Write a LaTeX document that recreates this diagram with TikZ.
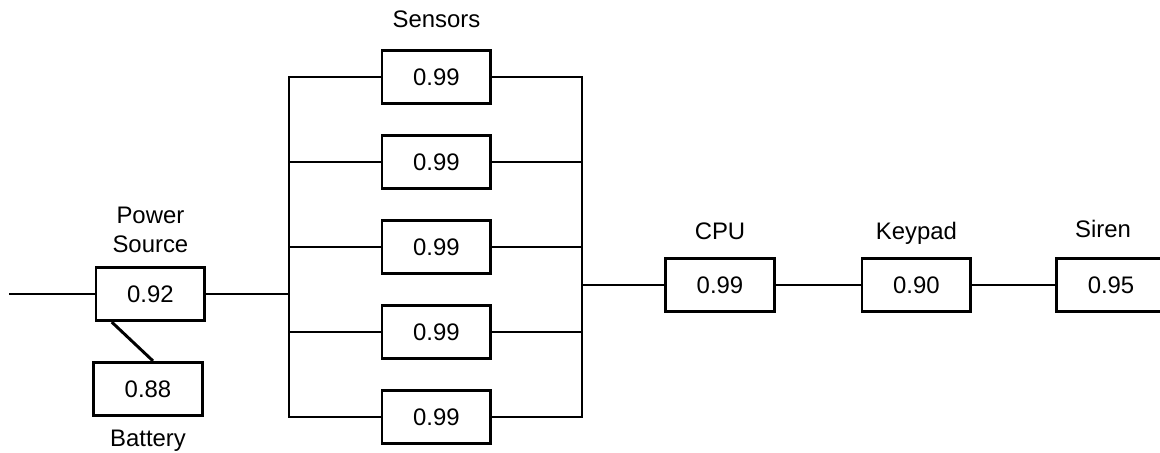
\documentclass[tikz,border=0pt]{standalone}
\usepackage{fontspec}
\setmainfont{Liberation Sans}
\usetikzlibrary{positioning}

\begin{document}
\begin{tikzpicture}[x=1cm,y=1cm,line width=2.1pt,every node/.style={font=\fontsize{17}{20}\selectfont},
    blk/.style={draw,line width=2.1pt,minimum width=2.72cm,minimum height=1.33cm,inner sep=0pt},
    tag/.style={text depth=0pt,inner sep=0pt,align=center}]
  \useasboundingbox (0,0) rectangle (29,11.325);
  \coordinate (in) at (0.225,3.975);
  \coordinate (lb) at (7.225,0);
  \coordinate (rb) at (14.55,0);
  \node[blk] (pwr) at (3.76,3.975) {0.92};
  \node[blk] (bat) at (3.70,1.6) {0.88};
  \node[tag,above=0.31cm of pwr] {Power\\Source};
  \node[tag,below=0.3cm of bat] {Battery};
  \node[blk] (s1) at (10.91,9.4) {0.99};
  \node[blk] (s2) at (10.91,7.275) {0.99};
  \node[blk] (s3) at (10.91,5.15) {0.99};
  \node[blk] (s4) at (10.91,3.025) {0.99};
  \node[blk] (s5) at (10.91,0.9) {0.99};
  \node[tag,above=0.5cm of s1] {Sensors};
  \node[blk] (cpu) at (18.0,4.2) {0.99};
  \node[blk] (key) at (22.91,4.2) {0.90};
  \node[blk] (sir) at (27.775,4.2) {0.95};
  \node[tag,above=0.41cm of cpu] {CPU};
  \node[tag,above=0.41cm of key] {Keypad};
  \node[tag,above=0.45cm of sir,xshift=-0.2cm] {Siren};
  \draw (in) -- (pwr); \draw (pwr.216) -- (bat.80);
  \draw (pwr.east) -- (pwr.east -| lb);
  \draw (s1.west) -- (s1.west -| lb) -- (s5.west -| lb) -- (s5.west);
  \draw (s2.west) -- (s2.west -| lb); \draw (s3.west) -- (s3.west -| lb); \draw (s4.west) -- (s4.west -| lb);
  \draw (s1.east) -- (s1.east -| rb) -- (s5.east -| rb) -- (s5.east);
  \draw (s2.east) -- (s2.east -| rb); \draw (s3.east) -- (s3.east -| rb); \draw (s4.east) -- (s4.east -| rb);
  \draw (cpu.west -| rb) -- (cpu); \draw (cpu) -- (key); \draw (key) -- (sir);
\end{tikzpicture}
\end{document}
